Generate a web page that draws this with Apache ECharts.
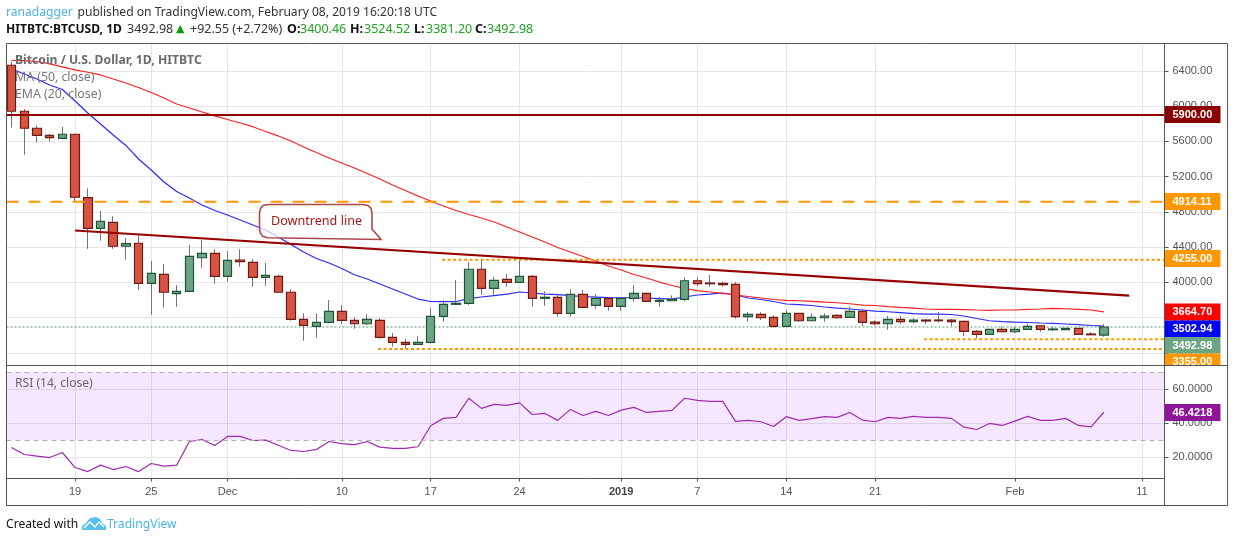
<!DOCTYPE html>
<html><head><meta charset="utf-8">
<style>html,body{margin:0;padding:0;background:#fff}#c{width:1234px;height:542px}</style>
<script src="https://cdn.jsdelivr.net/npm/echarts@6/dist/echarts.min.js"></script>
</head><body><div id="c"></div>
<script>
// Daily bars, Nov 14 2018 (index 0) .. Feb 8 2019 (index 86)
const opens=[6463,5941,5748,5668,5634,5680,4960,4613,4681,4409,4443,3989,4091,3871,3898,4279,4329,4068,4253,4227,4057,4068,3887,3580,3501,3546,3671,3569,3530,3569,3376,3319,3296,3319,3614,3750,3762,4148,3932,4034,4000,4068,3818,3830,3648,3864,3739,3818,3728,3818,3875,3784,3791,3807,4018,3992,3989,3977,3610,3637,3603,3501,3648,3564,3598,3625,3603,3671,3549,3530,3580,3553,3572,3572,3572,3557,3444,3410,3467,3439,3467,3507,3462,3462,3478,3413,3400.46];
const highs=[6500,5967,5782,5683,5763,5680,5067,4809,4749,4499,4548,4242,4208,3969,4423,4480,4375,4355,4375,4264,4219,4091,3921,3648,3648,3799,3742,3603,3640,3591,3425,3356,3390,3708,3796,4026,4230,4264,4060,4094,4264,4083,3898,3864,3924,3913,3867,3818,3818,3969,3875,3833,3852,4057,4057,4083,4007,4003,3663,3660,3625,3686,3648,3648,3648,3637,3723,3694,3569,3618,3618,3595,3580,3663,3583,3564,3459,3467,3496,3496,3527,3512,3496,3480,3478,3436,3524.52];
const lows=[5755,5448,5584,5596,5634,4915,4381,4472,4381,4257,3916,3632,3712,3723,3898,4166,3984,4007,4177,3950,3961,3887,3564,3337,3371,3546,3527,3473,3515,3360,3269,3243,3296,3319,3553,3750,3742,3859,3859,3950,4000,3723,3734,3610,3610,3716,3700,3678,3678,3780,3784,3723,3791,3784,3958,3950,3950,3587,3553,3572,3485,3501,3549,3564,3553,3587,3603,3504,3512,3462,3527,3535,3527,3546,3504,3390,3364,3410,3432,3421,3467,3439,3447,3462,3402,3405,3381.2];
const closes=[5941,5748,5668,5641,5680,4965,4613,4692,4409,4438,3989,4102,3887,3898,4295,4329,4068,4250,4234,4057,4079,3887,3580,3512,3546,3671,3569,3530,3580,3376,3319,3296,3319,3614,3750,3762,4148,3932,4023,4000,4068,3818,3830,3648,3864,3716,3818,3728,3818,3875,3784,3796,3807,4018,3984,3984,3973,3610,3637,3598,3501,3648,3564,3603,3618,3598,3671,3546,3530,3580,3553,3572,3561,3564,3553,3444,3410,3467,3439,3467,3501,3467,3470,3478,3410,3405,3492.98];
const blueMA=[6421,6364,6307,6239,6188,6058,5922,5797,5672,5553,5399,5275,5138,5031,4957,4877,4815,4764,4707,4650,4594,4514,4429,4344,4270,4219,4157,4086,4037,3981,3924,3867,3810,3782,3780,3782,3814,3833,3850,3867,3890,3879,3867,3861,3850,3839,3833,3827,3825,3825,3822,3816,3810,3833,3856,3867,3879,3856,3822,3805,3782,3754,3746,3737,3720,3708,3697,3686,3674,3666,3657,3644,3640,3640,3635,3618,3589,3564,3555,3549,3544,3538,3535,3527,3519,3510,3502.94];
const redEMA=[6517,6515,6506,6478,6444,6410,6384,6353,6307,6262,6211,6154,6092,6024,5978,5933,5888,5848,5808,5766,5712,5661,5604,5536,5473,5411,5354,5297,5235,5172,5104,5042,4980,4923,4866,4815,4770,4730,4684,4628,4571,4514,4457,4395,4344,4293,4242,4185,4140,4089,4049,4003,3964,3930,3905,3890,3875,3856,3839,3822,3805,3796,3791,3784,3776,3768,3757,3742,3737,3725,3716,3708,3697,3694,3694,3691,3686,3682,3686,3686,3694,3697,3705,3700,3694,3686,3664.7];
const rsi=[25.6,21.4,20.4,19.6,22.6,13.7,11.3,15.1,12.5,14.3,11.3,16.1,14.5,15.1,29.1,30.3,26.7,32.1,32.1,29.7,29.9,26.9,23.8,23.2,24.4,29.1,27.9,27.3,29.1,25.8,25,25,26,38.4,42.8,43.4,54.7,48.7,51.1,50.5,52,45.1,45.7,41.6,48.1,44.5,46.9,44.5,47.7,49.3,46.3,46.9,47.5,54.7,53.5,52.9,52.9,41,41.6,40.8,38,43.8,41.6,42.6,43.8,43.4,46.3,41.8,40.8,43.4,42.8,44,43.4,43.4,42.8,37.6,36.2,39.8,38.6,41.2,44,41.6,41.6,42.8,38.6,37.8,46.4218];
const tickDays=[5,11,17,26,33,40,48,54,61,68,79,89];
const tickNames=['19','25','Dec','10','17','24','2019','7','14','21','Feb','11'];
const priceTicks=[3200,3600,4000,4400,4800,5200,5600,6000,6400];
const rsiTicks=[20,40,60];
const downtrend=[[5,4588],[88,3850]];
const levelResistance=5900, levelMajor=4914.11, levelUpper=4255, levelSupport=3355, levelLower=3243, lastClose=3492.98;

const xMin=-0.40, xMax=90.78;
const FONT='"Liberation Sans",Arial,sans-serif';
const HEAD='"Noto Sans",sans-serif';

function lvl(v,from,color,width,dash,z){
  return {type:'line',xAxisIndex:0,yAxisIndex:0,silent:true,symbol:'none',z:z||5,
    data:[[from,v],[xMax,v]],lineStyle:{color:color,width:width,type:dash||'solid'}};
}
const xBase={type:'value',min:xMin,max:xMax,
  axisLine:{show:false},axisTick:{show:false,customValues:tickDays},
  axisLabel:{show:false,customValues:tickDays},
  splitLine:{show:true,lineStyle:{color:'#e6e6e6',width:1}}};
const yGrid={show:true,lineStyle:{color:'#e6e6e6',width:1}};
const wickData=opens.map((o,i)=>[i,o,closes[i],lows[i],highs[i]]);
const bodyData=opens.map((o,i)=>[i,o,closes[i],Math.min(o,closes[i]),Math.max(o,closes[i])]);

const option={
  animation:false,backgroundColor:'#fff',
  grid:[{left:6.5,right:69.5,top:43.5,height:322},{left:6.5,right:69.5,top:365.5,height:113}],
  xAxis:[
    Object.assign({},xBase,{gridIndex:0}),
    Object.assign({},xBase,{gridIndex:1,
      axisLine:{show:true,onZero:false,lineStyle:{color:'#555',width:1}},
      axisTick:{show:true,length:3,customValues:tickDays,lineStyle:{color:'#555'}},
      axisLabel:{show:true,customValues:tickDays,margin:8,color:'#555',fontFamily:FONT,fontSize:11,
        formatter:v=>{const n=tickNames[tickDays.indexOf(v)];return n==='2019'?'{b|2019}':n;},
        rich:{b:{fontFamily:FONT,fontSize:11,fontWeight:'bold',color:'#444'}}}})
  ],
  yAxis:[
    {type:'value',gridIndex:0,position:'right',min:3056,max:6710,scale:true,
     axisLine:{show:true,onZero:false,lineStyle:{color:'#555'}},
     axisTick:{show:true,length:4,customValues:priceTicks,lineStyle:{color:'#555'}},
     axisLabel:{customValues:priceTicks,margin:8,color:'#555',fontFamily:FONT,fontSize:11,formatter:v=>v.toFixed(2)},
     splitLine:yGrid},
    {type:'value',gridIndex:1,position:'right',min:7.2,max:74.1,scale:true,
     axisLine:{show:true,onZero:false,lineStyle:{color:'#555'}},
     axisTick:{show:true,length:4,customValues:rsiTicks,lineStyle:{color:'#555'}},
     axisLabel:{customValues:rsiTicks,margin:8,color:'#555',fontFamily:FONT,fontSize:11,formatter:v=>v.toFixed(4)},
     splitLine:yGrid}
  ],
  series:[
    {name:'MA',type:'line',xAxisIndex:0,yAxisIndex:0,symbol:'none',z:2,data:blueMA.map((v,i)=>[i,v]),lineStyle:{color:'#2a2aff',width:1.2}},
    {name:'EMA',type:'line',xAxisIndex:0,yAxisIndex:0,symbol:'none',z:2,data:redEMA.map((v,i)=>[i,v]),lineStyle:{color:'#ff2020',width:1.2}},
    {name:'wick',type:'candlestick',xAxisIndex:0,yAxisIndex:0,z:3,barWidth:1,encode:{x:0,y:[1,2,3,4]},data:wickData,
     itemStyle:{color:'#737375',color0:'#737375',borderColor:'#737375',borderColor0:'#737375',borderColorDoji:'#737375',borderWidth:1}},
    {name:'body',type:'candlestick',xAxisIndex:0,yAxisIndex:0,z:4,barWidth:9,encode:{x:0,y:[1,2,3,4]},data:bodyData,
     itemStyle:{color:'#6ba583',color0:'#d75442',borderColor:'#225437',borderColor0:'#6f1a12',borderColorDoji:'#225437',borderWidth:1.2}},
    lvl(lastClose,xMin,'#53996f',1,[2,2],1),
    lvl(levelResistance,xMin,'#8f0000',2,'solid'),
    lvl(levelMajor,xMin,'#ff9800',2,[12,10]),
    lvl(levelUpper,33.9,'#ff9800',2,[3,2.5]),
    lvl(levelSupport,71.85,'#ff9800',2,[3,2.5]),
    lvl(levelLower,28.85,'#ff9800',2,[3,2.5]),
    {name:'Downtrend',type:'line',xAxisIndex:0,yAxisIndex:0,symbol:'none',z:6,data:downtrend,lineStyle:{color:'#960000',width:2.2}},
    {name:'RSI',type:'line',xAxisIndex:1,yAxisIndex:1,symbol:'none',z:3,data:rsi.map((v,i)=>[i,v]),lineStyle:{color:'#a02bb0',width:1.2},
     markArea:{silent:true,itemStyle:{color:'rgba(153,21,255,0.10)'},data:[[{yAxis:30},{yAxis:70}]]},
     markLine:{silent:true,symbol:'none',label:{show:false},lineStyle:{color:'#b7adb9',type:[5,4],width:1},data:[{yAxis:30},{yAxis:70}]}}
  ],
  graphic:{elements:[]}
};
const G=[];
function T(x,y,s,o){G.push({type:'text',silent:true,z:50,style:Object.assign({x:x,y:y,text:s,verticalAlign:'middle',fill:'#333',font:'12.5px '+HEAD},o||{})});}
function L(y,w,color,h){G.push({type:'rect',silent:true,z:40,shape:{x:1164.5,y:y,width:w,height:h},style:{fill:color}});}
function priceTag(y,h,txt,color,ty){L(y,56,color,h);T(1172.5,ty,txt,{fill:'#fff',font:'bold 11px '+FONT});}
// frame
G.push({type:'rect',silent:true,z:45,shape:{x:6.5,y:43.5,width:1221,height:462},style:{fill:'none',stroke:'#555',lineWidth:1}});
G.push({type:'line',silent:true,z:45,shape:{x1:1164.5,y1:43.5,x2:1164.5,y2:505.5},style:{stroke:'#555',lineWidth:1}});
G.push({type:'line',silent:true,z:45,shape:{x1:6.5,y1:365.5,x2:1227.5,y2:365.5},style:{stroke:'#555',lineWidth:1}});
// price tags
priceTag(106,17,'5900.00','#8b0000',114.5);
priceTag(193,17,'4914.11','#ff9800',201.5);
priceTag(250,17,'4255.00','#ff9800',258.5);
priceTag(303.5,17,'3664.70','#ff0000',312);
priceTag(320.5,16.5,'3502.94','#0000ff',329);
priceTag(337,16.5,'3492.98','#6ba583',345.5);
priceTag(353.5,11.5,'3355.00','#ff9800',361.5);
priceTag(404,17,'46.4218','#8e1599',412.5);
// header
T(6,12.5,'ranadagger',{fill:'#4db3e6',font:'12.1px '+HEAD});
T(77.5,12.5,'published on TradingView.com, February 08, 2019 16:20:18 UTC',{fill:'#333',font:'12.1px '+HEAD});
T(6,29.5,'HITBTC:BTCUSD, 1D',{fill:'#111',font:'bold 12.1px '+HEAD});
T(127,29.5,'3492.98');
T(176,29,'▲',{fill:'#0a9a0a',font:'11px "DejaVu Sans",sans-serif'});
T(190,29.5,'+92.55 (+2.72%)');
[['O:',287,'3400.46',300],['H:',350,'3524.52',364],['L:',414,'3381.20',426],['C:',475,'3492.98',487]].forEach(a=>{
  T(a[1],29.5,a[0],{fill:'#111',font:'bold 12.5px '+HEAD});
  T(a[3],29.5,a[2],{fill:'#1fa31f'});
});
// pane legends
T(15,60.5,'Bitcoin / U.S. Dollar, 1D, HITBTC',{fill:'#6b6b6b',font:'bold 12.2px '+HEAD});
T(15,77.5,'MA (50, close)',{fill:'#777',font:'12.3px '+HEAD});
T(15,94.5,'EMA (20, close)',{fill:'#777',font:'12.3px '+HEAD});
T(15,383.5,'RSI (14, close)',{fill:'#666',font:'12.1px '+HEAD});
// callout
G.push({type:'polygon',silent:true,z:30,shape:{points:[[268,204.5],[363,204.5],[368,205.5],[371,208.5],[372,213],[372,229],[381,239.5],[268,237.7],[263,236.5],[260.5,233.5],[259.5,229],[259.5,213],[260.5,208.5],[263,205.5]]},
  style:{fill:'rgba(255,255,255,0.72)',stroke:'#ab4a4a',lineWidth:1.6}});
T(271,221,'Downtrend line',{fill:'#a81818',font:'12.6px '+HEAD});
// footer
T(6,524.5,'Created with',{fill:'#111',font:'12.1px '+HEAD});
G.push({type:'polygon',silent:true,z:30,shape:{points:[[82,530],[82,526],[86,523],[90,518],[96,517],[100,519],[102,523],[106,526],[106,530]]},style:{fill:'#59c0ea'}});
G.push({type:'polyline',silent:true,z:31,shape:{points:[[84,528],[90,522],[95,527],[99,522],[104,527]]},style:{fill:'none',stroke:'#fff',lineWidth:1.4}});
T(107,524.5,'TradingView',{fill:'#47b6e6',font:'12.1px '+HEAD});
option.graphic.elements=G;
echarts.init(document.getElementById('c'),null,{renderer:'canvas'}).setOption(option);
</script></body></html>
